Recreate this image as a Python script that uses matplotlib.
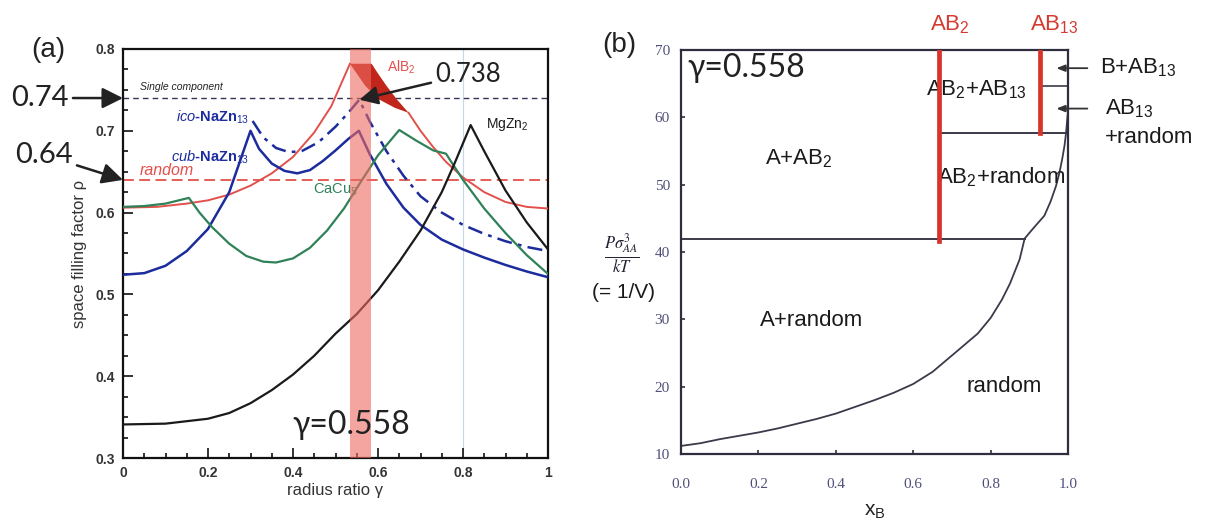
import matplotlib
matplotlib.use("Agg")
import matplotlib.pyplot as plt
from matplotlib.ticker import MultipleLocator

plt.rcParams['font.family'] = ['Liberation Sans', 'DejaVu Sans']
plt.rcParams['mathtext.fontset'] = 'custom'
plt.rcParams['mathtext.rm'] = 'Liberation Sans'
plt.rcParams['mathtext.it'] = 'Liberation Sans:italic'
plt.rcParams['mathtext.bf'] = 'Liberation Sans:bold'

# ---------------- (a) space filling factor vs radius ratio ----------------
gamma_alb2 = [0.00, 0.08, 0.15, 0.20, 0.25, 0.30, 0.35, 0.40, 0.45, 0.49, 0.534]
rho_alb2 = [0.606, 0.607, 0.611, 0.615, 0.622, 0.633, 0.648, 0.668, 0.698, 0.730, 0.782]
gamma_alb2_tail = [0.672, 0.70, 0.73, 0.76, 0.80, 0.85, 0.90, 0.95, 1.00]
rho_alb2_tail = [0.722, 0.700, 0.680, 0.662, 0.643, 0.625, 0.613, 0.607, 0.605]
# stability wedge of AlB2 (upper edge, then lower edge back)
gamma_wedge = [0.534, 0.585, 0.60, 0.62, 0.645, 0.672, 0.64, 0.60, 0.57, 0.534]
rho_wedge = [0.782, 0.782, 0.770, 0.755, 0.738, 0.722, 0.728, 0.739, 0.755, 0.782]

gamma_cub = [0.00, 0.05, 0.10, 0.15, 0.20, 0.25, 0.30, 0.32, 0.35, 0.38, 0.41, 0.44,
             0.47, 0.50, 0.53, 0.555, 0.58, 0.62, 0.66, 0.70, 0.75, 0.80, 0.85, 0.90, 0.95, 1.00]
rho_cub = [0.524, 0.526, 0.535, 0.553, 0.580, 0.625, 0.700, 0.678, 0.660, 0.651, 0.648, 0.652,
           0.663, 0.676, 0.690, 0.700, 0.672, 0.635, 0.606, 0.585, 0.567, 0.555, 0.545, 0.536, 0.528, 0.521]

gamma_ico = [0.305, 0.33, 0.36, 0.39, 0.42, 0.46, 0.50, 0.53, 0.556, 0.58, 0.62, 0.66,
             0.70, 0.75, 0.80, 0.85, 0.90, 0.95, 1.00]
rho_ico = [0.712, 0.692, 0.679, 0.674, 0.675, 0.686, 0.705, 0.722, 0.738, 0.712, 0.675, 0.645,
           0.620, 0.600, 0.585, 0.574, 0.565, 0.558, 0.553]

gamma_cacu5 = [0.00, 0.05, 0.10, 0.155, 0.18, 0.21, 0.25, 0.29, 0.33, 0.36, 0.40, 0.44, 0.48,
               0.52, 0.56, 0.60, 0.65, 0.69, 0.73, 0.76, 0.80, 0.85, 0.90, 0.95, 1.00]
rho_cacu5 = [0.607, 0.608, 0.611, 0.618, 0.600, 0.582, 0.562, 0.547, 0.540, 0.539, 0.544, 0.557,
             0.578, 0.605, 0.638, 0.670, 0.701, 0.688, 0.676, 0.672, 0.640, 0.605, 0.575, 0.548, 0.525]

gamma_mgzn2 = [0.00, 0.10, 0.20, 0.25, 0.30, 0.35, 0.40, 0.45, 0.50, 0.55, 0.60, 0.65, 0.70,
               0.75, 0.78, 0.818, 0.85, 0.90, 0.95, 1.00]
rho_mgzn2 = [0.341, 0.342, 0.348, 0.355, 0.367, 0.383, 0.402, 0.425, 0.452, 0.476, 0.505, 0.540,
             0.578, 0.625, 0.660, 0.707, 0.675, 0.627, 0.588, 0.555]

rho_single = 0.74
rho_random = 0.64
rho_ico_peak = 0.738
gamma_star = 0.558
band = (0.535, 0.583)

# ---------------- (b) phase diagram at gamma = 0.558 ----------------
xb_random = [0.0, 0.05, 0.1, 0.15, 0.2, 0.25, 0.3, 0.35, 0.4, 0.45, 0.5, 0.55, 0.6, 0.65,
             0.685, 0.72, 0.767, 0.8, 0.829, 0.85, 0.875, 0.888,
             0.91, 0.939, 0.955, 0.969, 0.978, 0.985, 0.991, 0.995, 1.0]
p_random = [11.2, 11.6, 12.2, 12.7, 13.2, 13.8, 14.5, 15.2, 16.0, 17.0, 18.0, 19.1, 20.4, 22.2,
            23.9, 25.6, 27.9, 30.2, 32.9, 35.3, 38.9, 42.0,
            43.5, 45.4, 47.5, 49.8, 51.8, 53.8, 55.8, 57.7, 61.0]
x_ab2 = 2 / 3
x_ab13 = 13 / 14
p_triple_low = 42.0
p_triple_mid = 57.7
p_triple_high = 64.7
p_arrow_b = 67.3
p_arrow_ab13 = 61.3

W, H = 1211, 529
fig = plt.figure(figsize=(W / 100, H / 100), dpi=100)


def fpos(x, y):
    return (x / W, 1 - y / H)


c_red = '#e2504c'
c_blue = '#1c2c9c'
c_green = '#2f8158'
c_dark = '#1a1a1a'

ax1 = fig.add_axes([123 / W, 1 - 458 / H, (548 - 123) / W, (458 - 49) / H])
ax1.set_xlim(0, 1)
ax1.set_ylim(0.3, 0.8)

ax1.axvline(0.8, color='#c4d8ec', lw=0.8, zorder=0)
ax1.axhline(rho_single, color='#333355', lw=1.0, ls=(0, (4, 3)), zorder=2)
ax1.axhline(rho_random, color=c_red, lw=1.3, ls=(0, (6, 3)), zorder=2)

ax1.plot(gamma_alb2, rho_alb2, color=c_red, lw=1.4, zorder=3)
ax1.plot(gamma_alb2_tail, rho_alb2_tail, color=c_red, lw=1.4, zorder=3)
ax1.fill(gamma_wedge, rho_wedge, color='#c0261b', lw=0, zorder=3)
ax1.plot(gamma_cub, rho_cub, color=c_blue, lw=1.8, zorder=3)
ax1.plot(gamma_ico, rho_ico, color=c_blue, lw=1.8, ls=(0, (6, 2.5, 1.5, 2.5)), zorder=3)
ax1.plot(gamma_cacu5, rho_cacu5, color=c_green, lw=1.6, zorder=3)
ax1.plot(gamma_mgzn2, rho_mgzn2, color=c_dark, lw=1.6, zorder=3)
ax1.axvspan(band[0], band[1], color='#ee6a60', alpha=0.6, lw=0, zorder=4)

for s in ax1.spines.values():
    s.set_linewidth(1.6)
    s.set_color('#111111')
ax1.xaxis.set_minor_locator(MultipleLocator(0.05))
ax1.yaxis.set_major_locator(MultipleLocator(0.1))
ax1.yaxis.set_minor_locator(MultipleLocator(0.025))
ax1.tick_params(which='both', direction='in', color='#111111', width=1.2)
ax1.tick_params(which='major', length=7, labelsize=10, labelcolor='#333333', pad=6)
ax1.tick_params(which='minor', length=3.5)
ax1.set_xticks([0, 0.2, 0.4, 0.6, 0.8, 1.0])
ax1.set_xticklabels(['0', '0.2', '0.4', '0.6', '0.8', '1'], fontweight='bold')
ax1.set_yticklabels([f'{v:.1f}' for v in ax1.get_yticks()], fontweight='bold')
ax1.set_ylim(0.3, 0.8)
ax1.set_xlabel('radius ratio γ', fontsize=12, color='#333333', labelpad=2)
ax1.set_ylabel('space filling factor ρ', fontsize=12, color='#333333', labelpad=6)

ax1.text(0.04, rho_single + 0.008, 'Single component', fontsize=7.5, style='italic',
         color='#222222', va='bottom')
ax1.text(0.04, rho_random + 0.002, 'random', fontsize=11.5, style='italic', color=c_red,
         va='bottom')
ax1.text(0.655, 0.778, 'AlB$_2$', fontsize=10, color=c_red, ha='center', va='center')
ax1.text(0.21, 0.716, r'$\mathit{ico}$-NaZn$_{13}$', fontsize=10.5, color=c_blue,
         ha='center', va='center', fontweight='bold')
ax1.text(0.205, 0.668, r'$\mathit{cub}$-NaZn$_{13}$', fontsize=10.5, color=c_blue,
         ha='center', va='center', fontweight='bold')
ax1.text(0.5, 0.628, 'CaCu$_5$', fontsize=10.5, color=c_green, ha='center', va='center')
ax1.text(0.905, 0.708, 'MgZn$_2$', fontsize=10, color=c_dark, ha='center', va='center')

big = dict(family=['Lato', 'DejaVu Sans'], fontsize=21, color='#222222')
arrow = dict(arrowstyle='-|>,head_length=0.6,head_width=0.3', lw=1.8, color='#222222',
             shrinkA=1, shrinkB=0)
ax1.annotate('0.74', xy=(0, rho_single), xytext=fpos(40, 98), textcoords='figure fraction',
             ha='center', va='center', arrowprops=arrow, annotation_clip=False, **big)
ax1.annotate('0.64', xy=(0, rho_random), xytext=fpos(44, 155), textcoords='figure fraction',
             ha='center', va='center', arrowprops=arrow, annotation_clip=False, **big)
big738 = dict(big, fontsize=18.5)
ax1.annotate('0.738', xy=(gamma_ico[rho_ico.index(rho_ico_peak)], rho_ico_peak),
             xytext=fpos(468, 74), textcoords='figure fraction',
             ha='center', va='center', arrowprops=arrow, zorder=6, **big738)
big_gamma = dict(big, fontsize=23)
ax1.text(gamma_star - 0.02, 0.34, f'γ={gamma_star}', ha='center', va='center', zorder=6,
         **big_gamma)
fig.text(*fpos(48, 50), '(a)', fontsize=20, ha='center', va='center', color='#222222')

# ---------------- (b) ----------------
ax2 = fig.add_axes([681 / W, 1 - 454 / H, (1068 - 681) / W, (454 - 50) / H])
ax2.set_xlim(0, 1)
ax2.set_ylim(10, 70)
c_line = '#3a3a4a'
ax2.plot(xb_random, p_random, color=c_line, lw=1.3)
ax2.plot([0, xb_random[p_random.index(p_triple_low)]], [p_triple_low, p_triple_low],
         color=c_line, lw=1.4)
ax2.plot([x_ab2, xb_random[p_random.index(p_triple_mid)]], [p_triple_mid, p_triple_mid],
         color=c_line, lw=1.4)
ax2.plot([x_ab13, 1.0], [p_triple_high, p_triple_high], color=c_line, lw=1.2)
ax2.plot([x_ab2, x_ab2], [p_triple_low - 0.4, 70], color='#d8342b', lw=3.4, zorder=4)
ax2.plot([x_ab13, x_ab13], [p_triple_mid, 70], color='#d8342b', lw=3.4, zorder=4)

for s in ax2.spines.values():
    s.set_linewidth(1.6)
    s.set_color('#2e2e40')
ax2.tick_params(direction='in', length=3, width=1.2, color='#2e2e40')
ax2.tick_params(axis='x', pad=17)
ax2.tick_params(axis='y', pad=8)
serif = dict(family=['Liberation Serif', 'DejaVu Serif'], fontsize=11, color='#50507a')
ax2.set_xticks([0, 0.2, 0.4, 0.6, 0.8, 1.0])
ax2.set_xticklabels([f'{v:.1f}' for v in ax2.get_xticks()], **serif)
ax2.set_yticks([10, 20, 30, 40, 50, 60, 70])
ax2.set_yticklabels([str(v) for v in ax2.get_yticks()], **serif)
ax2.set_ylim(10, 70)
ax2.set_xlabel('x$_\\mathrm{B}$', fontsize=15, color='#222222', labelpad=8)

lab = dict(fontsize=16, color='#1a1a1a', ha='center', va='center')
ax2.text(0.305, 53.8, 'A+AB$_2$', **lab)
ax2.text(0.762, 64.1, 'AB$_2$+AB$_{13}$', **lab)
ax2.text(0.826, 51.1, 'AB$_2$+random', **lab)
ax2.text(0.338, 29.9, 'A+random', **lab)
ax2.text(0.834, 20.0, 'random', **lab)
ax2.text(0.017, 67.4, f'γ={gamma_star}', ha='left', va='center', **big_gamma)

ax2.text(x_ab2 + 0.028, 73.7, 'AB$_2$', fontsize=16, color='#d43a2f', ha='center',
         va='center', clip_on=False)
ax2.text(x_ab13 + 0.037, 73.7, 'AB$_{13}$', fontsize=16, color='#d43a2f', ha='center',
         va='center', clip_on=False)

side = dict(fontsize=16, color='#1a1a1a', ha='left', va='center', clip_on=False)
ax2.text(1.083, p_arrow_b, 'B+AB$_{13}$', **side)
ax2.text(1.095, p_arrow_ab13, 'AB$_{13}$', **side)
ax2.text(1.095, 57.0, '+random', **side)
small_arrow = dict(arrowstyle='-|>,head_length=0.5,head_width=0.2', lw=1.3,
                   color='#333333', shrinkA=0, shrinkB=0)
for p in (p_arrow_b, p_arrow_ab13):
    ax2.annotate('', xy=(0.97, p), xytext=(1.05, p), arrowprops=small_arrow,
                 annotation_clip=False)

fig.text(*fpos(622, 254), r'$\frac{P\sigma_{AA}^{3}}{kT}$', fontsize=17,
         math_fontfamily='stix', ha='center', va='center', color='#222233')
fig.text(*fpos(624, 293), '(= 1/V)', fontsize=15, ha='center', va='center', color='#1a1a1a')
fig.text(*fpos(619, 45), '(b)', fontsize=20, ha='center', va='center', color='#222222')

fig.savefig('out.png', dpi=100)
